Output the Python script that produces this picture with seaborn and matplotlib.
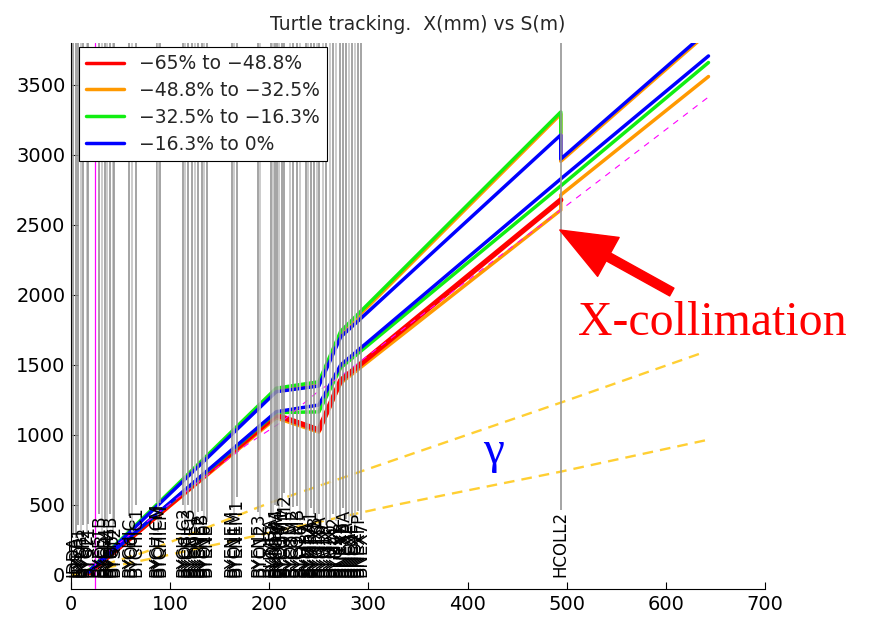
import matplotlib
matplotlib.use("Agg")
import matplotlib.pyplot as plt
import pandas as pd
import seaborn as sns
from matplotlib.lines import Line2D

# ---- beamline elements: position S (m), name, marker shade ----
elem_s = [2.3, 5.0, 7.4, 9.8, 12.4, 15.8, 17.5, 28.5, 31.0, 34.3, 36.6, 39.3, 42.0, 43.4,
          58.8, 61.2, 65.6, 86.4, 88.1, 89.8, 113.3, 115.0, 118.3, 121.7, 125.1, 128.4,
          131.8, 134.2, 136.9, 162.1, 164.4, 167.1, 188.9, 190.6, 201.4, 203.4, 205.8,
          207.5, 210.1, 212.5, 214.8, 220.9, 223.6, 228.3, 231.0, 237.0, 239.4, 241.8,
          245.1, 247.8, 250.5, 254.2, 257.2, 261.2, 264.3, 267.3, 271.3, 274.4, 277.4,
          280.4, 283.4, 286.5, 289.5, 292.5, 494.0]
elem_name = ["IDDA", "IDST", "BYEF1", "BYQ1", "BYEF2", "BYQ2", "BYST1", "BYEF1B", "BYQ3",
             "BYEF4", "BYQ4", "BYEF4B", "BYQ5", "BYST2", "BYCHIC", "BYQ6", "BYCHIC1",
             "BYCHICM", "BYQ7", "BYCHIEM", "BYCHIC2", "BYQ8", "BYCHIC3", "BYENE1", "BYQ9",
             "BYENE2", "BYENEB", "BYQ10", "BYENE", "BYENEM", "BYQ11", "BYENEM1", "BYENE3",
             "BYQ12", "BUMBA", "BYQ13", "BUMBA1", "BYCOMA", "BYQ14", "BYCOM1", "BYCOMM2",
             "BYQ15", "BYCOM2", "BYCOMB", "BYQ16", "BYMBA", "BYQ17", "BYMBA1", "BYMIXB",
             "BYQ18", "BYMIXA", "BYQ19", "BYMIX", "BYQ20", "BYMIX2", "BYQ21", "BNEXB",
             "BNEXBA", "BNEXA", "BNQ1", "BNEXF", "BNQ2", "BNEXFP", "BNEX7", "HCOLL2"]
elem_shade = ["#c4c4c4" if "Q" in n else "#959595" for n in elem_name]

# ---- turtle envelopes: X (mm) against S (m) for four momentum bins ----
s_red = [18, 207, 250, 272, 494]
x_red = [15, 1143, 1036, 1390, 2679]

s_orange_hi = [18, 207, 250, 272, 494, 494, 643]
x_orange_hi = [25, 1318, 1362, 1722, 3292, 2955, 3876]
s_orange_lo = [18, 207, 250, 272, 494, 494, 643]
x_orange_lo = [12, 1122, 1020, 1370, 2606, 2714, 3560]

s_green_hi = [18, 207, 250, 272, 494, 494]
x_green_hi = [30, 1334, 1380, 1740, 3307, 3157]
s_green_lo = [18, 207, 250, 272, 494, 643]
x_green_lo = [20, 1160, 1165, 1480, 2779, 3660]

s_blue_hi = [18, 207, 250, 272, 494, 494, 643]
x_blue_hi = [25, 1309, 1350, 1700, 3143, 2971, 3892]
s_blue_lo = [18, 207, 250, 272, 494, 643]
x_blue_lo = [20, 1166, 1214, 1500, 2829, 3707]

# reference orbit and photon cone
s_ref = [18, 177, 211, 251, 271, 494, 643]
x_ref = [60, 929, 1086, 1321, 1414, 2607, 3414]
s_gamma_hi = [0, 75, 200, 332, 494, 640]
x_gamma_hi = [0, 165, 514, 836, 1231, 1595]
s_gamma_lo = [0, 90, 332, 494, 640]
x_gamma_lo = [0, 130, 507, 738, 962]

bin_labels = ["\u221265% to \u221248.8%", "\u221248.8% to \u221232.5%",
              "\u221232.5% to \u221216.3%", "\u221216.3% to 0%"]
bin_colors = ["#ff0000", "#ff9900", "#11ee11", "#0000ff"]

S_MARKER = 24.2
XLIM = (0, 700)
YLIM = (-100, 3800)

sns.set_style("ticks")
plt.rcParams["font.family"] = ["DejaVu Sans"]

fig = plt.figure(figsize=(8.71, 6.17), dpi=100)
ax = fig.add_axes([0.0815, 0.0454, 0.7968, 0.885])


def trace(s, x, color, lw, z, dashes=None):
    df = pd.DataFrame({"S": s, "X": x})
    sns.lineplot(data=df, x="S", y="X", sort=False, estimator=None, color=color,
                 lw=lw, ax=ax, zorder=z)
    if dashes is not None:
        ax.lines[-1].set_dashes(dashes)


trace(s_gamma_hi, x_gamma_hi, "#ffcf33", 1.7, 2, dashes=[4.5, 3])
trace(s_gamma_lo, x_gamma_lo, "#ffcf33", 1.7, 2, dashes=[4.5, 3])

trace(s_orange_hi, x_orange_hi, bin_colors[1], 2.5, 2.1)
trace(s_orange_lo, x_orange_lo, bin_colors[1], 2.5, 2.1)
trace(s_red, x_red, bin_colors[0], 3.8, 2.2)
trace(s_green_hi, x_green_hi, bin_colors[2], 2.5, 2.3)
trace(s_green_lo, x_green_lo, bin_colors[2], 2.5, 2.3)
trace(s_blue_hi, x_blue_hi, bin_colors[3], 2.5, 2.4)
trace(s_blue_lo, x_blue_lo, bin_colors[3], 2.5, 2.4)
trace(s_ref, x_ref, "#ff00ff", 0.8, 2.5, dashes=[5.5, 5.5])

ax.axvline(S_MARKER, color="#ff00ff", lw=0.9, zorder=2.6)

ax.set_xlim(*XLIM)
ax.set_ylim(*YLIM)
ax.set_xticks(range(0, 701, 100))
ax.set_yticks(range(0, 3501, 500))
ax.set_xlabel("")
ax.set_ylabel("")
ax.tick_params(direction="in", length=5, width=0.8, labelsize=14, pad=4, colors="black")
sns.despine(ax=ax)
for sp in ("left", "bottom"):
    ax.spines[sp].set_color("black")
    ax.spines[sp].set_linewidth(0.8)

ax.set_title("Turtle tracking.  X(mm) vs S(m)", fontsize=13.5, pad=9)

# element names along the bottom, marker lines from the name up to the top
texts = [ax.text(s, -14, n, rotation=90, ha="center", va="bottom", fontsize=12,
                 color="black", zorder=4)
         for s, n in zip(elem_s, elem_name)]
fig.canvas.draw()
renderer = fig.canvas.get_renderer()
inv = ax.transData.inverted()
for s, t, c in zip(elem_s, texts, elem_shade):
    bb = t.get_window_extent(renderer)
    y_top = inv.transform((bb.x0, bb.y1))[1]
    ax.plot([s, s], [y_top + 5, YLIM[1]], color=c, lw=1.2, zorder=3, solid_capstyle="butt")

# collimator annotation
ax.annotate("", xy=(493, 2464), xytext=(606, 2021),
            arrowprops=dict(arrowstyle="simple,head_length=2.0,head_width=1.6,tail_width=0.32",
                            color="#ff0000", shrinkA=0, shrinkB=0, mutation_scale=20),
            zorder=5)
ax.text(511, 1714, "X-collimation", color="#ff0000", fontsize=34.5,
        family=["Liberation Serif", "DejaVu Serif"], ha="left", va="baseline", zorder=5)
ax.text(426, 879, "\u03b3", color="#0000ff", fontsize=34,
        family=["Liberation Serif", "DejaVu Serif"], ha="center", va="center", zorder=5)

handles = [Line2D([], [], color=c, lw=2.5) for c in bin_colors]
leg = ax.legend(handles, bin_labels, loc="upper left", bbox_to_anchor=(8 / 694, 1 - 4 / 546),
                borderaxespad=0, fontsize=13.5, frameon=True, fancybox=False,
                edgecolor="black", framealpha=1, handlelength=2.0, handletextpad=0.8,
                labelspacing=0.42, borderpad=0.38)
leg.get_frame().set_linewidth(0.8)
leg.set_zorder(10)

fig.savefig("out.png", dpi=100)
